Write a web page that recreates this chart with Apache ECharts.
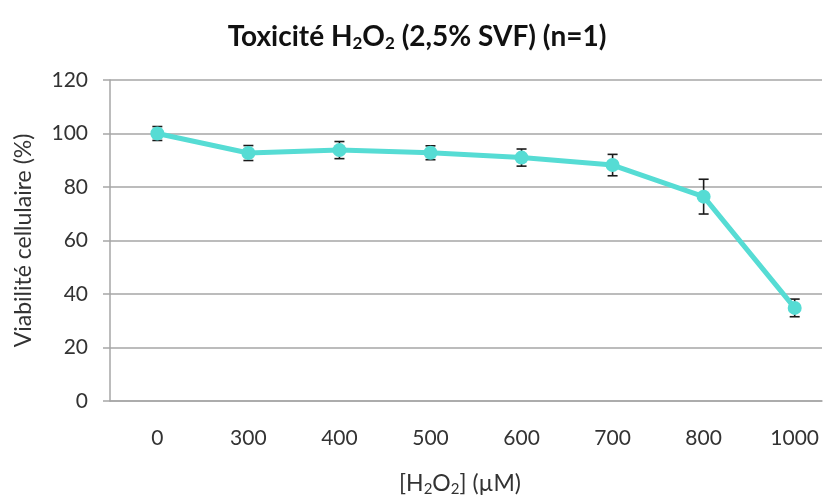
<!DOCTYPE html>
<html><head><meta charset="utf-8">
<script src="https://cdn.jsdelivr.net/npm/echarts@6/dist/echarts.min.js"></script>
<style>html,body{margin:0;padding:0;background:#fff}#c{width:834px;height:497px}</style>
</head><body><div id="c"></div>
<script>
const categories = ['0', '300', '400', '500', '600', '700', '800', '1000'];
const viability = [100, 92.7, 93.8, 92.8, 91.0, 88.2, 76.4, 34.8];
const errors = [2.6, 2.8, 3.2, 2.6, 3.2, 4.0, 6.5, 3.3];
const yTicks = [0, 20, 40, 60, 80, 100, 120];

const FONT = 'Lato';
const lineColor = '#56DCD4';
const gridColor = '#A6A6A6';
const textColor = '#333333';

const idx = categories.map((c, i) => i);
const lineData = viability.map((v, i) => [i, v]);
const errData = viability.map((v, i) => [i, v - errors[i], v + errors[i]]);

const chart = echarts.init(document.getElementById('c'), null, {renderer: 'canvas'});
chart.setOption({
  animation: false,
  backgroundColor: '#fff',
  textStyle: {fontFamily: FONT},
  title: {
    left: 'center', top: 16,
    text: '{a|Toxicité H}{s|2}{a|O}{s|2}{a| (2,5% SVF) (n=1)}',
    textStyle: {
      rich: {
        a: {fontFamily: FONT, fontWeight: 'bold', fontSize: 28, color: '#111', lineHeight: 32, verticalAlign: 'middle'},
        s: {fontFamily: FONT, fontWeight: 'bold', fontSize: 17, color: '#111', verticalAlign: 'middle', padding: [14, 0, 0, 0]}
      }
    }
  },
  grid: {left: 110, right: 12, top: 80, bottom: 96, containLabel: false, outerBoundsMode: 'none'},
  xAxis: {
    type: 'value',
    min: -0.52, max: 7.3,
    name: '{a|[H}{s|2}{a|O}{s|2}{a|] (µM)}',
    nameLocation: 'middle', nameGap: 69,
    nameTextStyle: {
      padding: [0, 12, 0, 0],
      rich: {
        a: {fontFamily: FONT, fontSize: 23, color: textColor, lineHeight: 26, verticalAlign: 'middle'},
        s: {fontFamily: FONT, fontSize: 15, color: textColor, verticalAlign: 'middle', padding: [12, 0, 0, 0]}
      }
    },
    axisLine: {show: true, onZero: false, lineStyle: {color: gridColor, width: 1.5}},
    axisTick: {show: false},
    axisLabel: {
      customValues: idx,
      formatter: v => categories[Math.round(v)],
      fontFamily: FONT, fontSize: 21, color: textColor, margin: 27
    },
    splitLine: {show: false}
  },
  yAxis: {
    type: 'value',
    min: yTicks[0], max: yTicks[yTicks.length - 1], interval: yTicks[1] - yTicks[0],
    name: 'Viabilité cellulaire (%)',
    nameLocation: 'middle', nameGap: 75,
    nameTextStyle: {fontFamily: FONT, fontSize: 23, color: textColor},
    axisLine: {show: true, onZero: false, lineStyle: {color: gridColor, width: 1.5}},
    axisTick: {show: true, length: 7, lineStyle: {color: gridColor, width: 1.5}},
    axisLabel: {fontFamily: FONT, fontSize: 21, color: textColor, margin: 22},
    splitLine: {show: true, lineStyle: {color: gridColor, width: 1.5}}
  },
  series: [
    {
      type: 'custom',
      z: 1,
      data: errData,
      renderItem: function (params, api) {
        const x = api.value(0);
        const lo = api.coord([x, api.value(1)]);
        const hi = api.coord([x, api.value(2)]);
        const w = 5;
        const style = {stroke: '#1a1a1a', lineWidth: 1.6};
        return {
          type: 'group',
          children: [
            {type: 'line', shape: {x1: lo[0], y1: lo[1], x2: hi[0], y2: hi[1]}, style},
            {type: 'line', shape: {x1: lo[0] - w, y1: lo[1], x2: lo[0] + w, y2: lo[1]}, style},
            {type: 'line', shape: {x1: hi[0] - w, y1: hi[1], x2: hi[0] + w, y2: hi[1]}, style}
          ]
        };
      }
    },
    {
      type: 'line',
      z: 3,
      data: lineData,
      symbol: 'circle', symbolSize: 14,
      lineStyle: {color: lineColor, width: 5},
      itemStyle: {color: lineColor}
    }
  ]
});
</script>
</body></html>
